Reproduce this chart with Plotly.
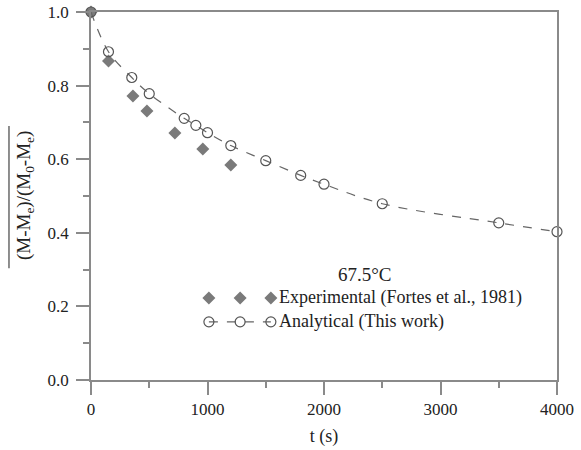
import plotly.graph_objects as go

# Data
t_analytical = [0, 150, 350, 500, 800, 900, 1000, 1200, 1500, 1800, 2000, 2500, 3500, 4000]
mr_analytical = [1.0, 0.892, 0.822, 0.778, 0.711, 0.692, 0.672, 0.637, 0.596, 0.556, 0.532, 0.479, 0.427, 0.403]

t_experimental = [0, 150, 360, 480, 720, 960, 1200]
mr_experimental = [1.0, 0.867, 0.772, 0.731, 0.671, 0.628, 0.584]

x_ticks = [0, 1000, 2000, 3000, 4000]
y_ticks = [0.0, 0.2, 0.4, 0.6, 0.8, 1.0]

FONT = "Liberation Serif"
AXC = "#8a8a8a"

fig = go.Figure()

fig.add_trace(go.Scatter(
    x=t_experimental, y=mr_experimental, mode="markers",
    marker=dict(symbol="diamond", size=10, color="#7a7a7a"),
    showlegend=False, cliponaxis=False))

fig.add_trace(go.Scatter(
    x=t_analytical, y=mr_analytical, mode="lines+markers",
    line=dict(color="#666666", width=1.2, dash="dash", shape="spline"),
    marker=dict(symbol="circle-open", size=10, color="#555555", line=dict(width=1.2)),
    showlegend=False, cliponaxis=False))

# Custom legend glyphs on an overlay axis (0..1)
lx = [0.253, 0.320, 0.386]
fig.add_trace(go.Scatter(
    x=lx, y=[0.223] * 3, mode="markers", xaxis="x2", yaxis="y2",
    marker=dict(symbol="diamond", size=10, color="#7a7a7a"), showlegend=False))
fig.add_trace(go.Scatter(
    x=lx, y=[0.158] * 3, mode="lines+markers", xaxis="x2", yaxis="y2",
    line=dict(color="#666666", width=1.2, dash="dash"),
    marker=dict(symbol="circle-open", size=10, color="#555555", line=dict(width=1.2)),
    showlegend=False))

fig.update_layout(
    width=581, height=450,
    margin=dict(l=91, r=24, t=12, b=70, autoexpand=False),
    paper_bgcolor="white", plot_bgcolor="white",
    font=dict(family=FONT, size=17, color="#222222"),
    xaxis=dict(
        range=[0, 4000], tickvals=x_ticks, ticks="outside", ticklen=13, tickcolor=AXC,
        tickwidth=1.5, showgrid=False, zeroline=False, showline=True, linecolor=AXC,
        linewidth=1.5, mirror=True, automargin=False,
        minor=dict(dtick=500, ticks="outside", ticklen=6, tickcolor=AXC, tickwidth=1.5, showgrid=False),
        title=dict(text="t (s)", font=dict(size=18, family=FONT), standoff=11)),
    yaxis=dict(
        range=[0, 1.0], tickvals=y_ticks, tickformat=".1f", ticks="outside", ticklen=13,
        tickcolor=AXC, tickwidth=1.5, showgrid=False, zeroline=False, showline=True,
        linecolor=AXC, linewidth=1.5, mirror=True, automargin=False, ticklabelstandoff=4,
        minor=dict(dtick=0.1, ticks="outside", ticklen=6, tickcolor=AXC, tickwidth=1.5, showgrid=False)),
    xaxis2=dict(overlaying="x", range=[0, 1], visible=False),
    yaxis2=dict(overlaying="y", range=[0, 1], visible=False),
    annotations=[
        dict(text="(M-M<sub>e</sub>)/(M<sub>0</sub>-M<sub>e</sub>)", xref="paper", yref="paper",
             x=0, y=0.50, xshift=-66, textangle=-90, showarrow=False,
             font=dict(size=19, family=FONT), xanchor="center", yanchor="middle"),
        dict(text="67.5°C", xref="paper", yref="paper", x=0.588, y=0.288, showarrow=False,
             font=dict(size=19, family=FONT), xanchor="center", yanchor="middle"),
        dict(text="Experimental (Fortes et al., 1981)", xref="paper", yref="paper", x=0.4, y=0.223,
             showarrow=False, font=dict(size=18, family=FONT), xanchor="left", yanchor="middle"),
        dict(text="Analytical (This work)", xref="paper", yref="paper", x=0.4, y=0.158,
             showarrow=False, font=dict(size=18, family=FONT), xanchor="left", yanchor="middle"),
    ],
    shapes=[
        dict(type="line", xref="paper", yref="paper", x0=-0.176, x1=-0.176, y0=0.304, y1=0.69,
             line=dict(color="#444444", width=1.2)),
    ],
)

fig.write_html("out.html")
